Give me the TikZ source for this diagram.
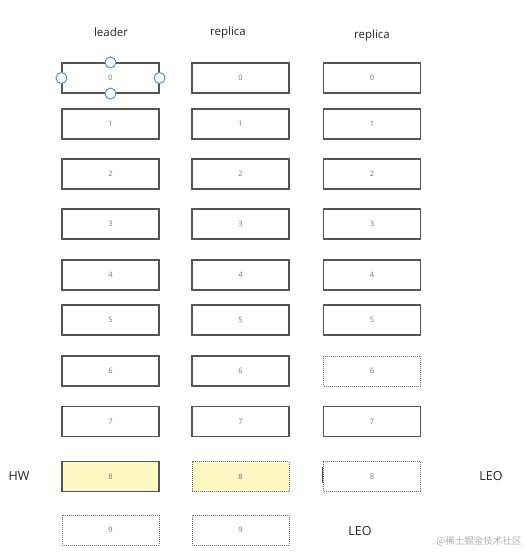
\documentclass[tikz,border=0pt]{standalone}
\usepackage{fontspec}
\setmainfont{Open Sans}
\newfontfamily\cjk{Noto Sans CJK SC}
\definecolor{boxline}{HTML}{555555}
\definecolor{numgray}{HTML}{777777}
\definecolor{hwyellow}{HTML}{FFF7C4}
\definecolor{handle}{HTML}{3D8BE0}
\begin{document}
\begin{tikzpicture}[x=1pt,y=-1pt,
  cell/.style={draw=boxline, line width=1.1pt, minimum width=97pt, minimum height=30pt, inner sep=0pt, font=\fontsize{7.5}{8}\selectfont, text=numgray},
  dotcell/.style={cell, draw=boxline!85, line width=1pt, dash pattern=on 0.9pt off 1.1pt},
  hw/.style={fill=hwyellow},
  title/.style={font=\fontsize{11.5}{13}\selectfont, text=black!85},
  lbl/.style={font=\fontsize{12.5}{14}\selectfont, text=black!85},
  knob/.style={circle, draw=handle, fill=white, line width=0.9pt, minimum size=11pt, inner sep=0pt}]
\useasboundingbox (0,0) rectangle (527,552);
\fill[white] (0,0) rectangle (527,552);
% titles
\node[title] (t1) at (111,32) {leader};
\node[title] (t2) at (228,33) {replica};
\node[title] (t3) at (372,36) {replica};
% column 1
\node[cell] (a0) at (110.5,78) {0};
\node[cell] (a1) at (110.5,124) {1};
\node[cell] (a2) at (110.5,174) {2};
\node[cell] (a3) at (110.5,224) {3};
\node[cell] (a4) at (110.5,275) {4};
\node[cell] (a5) at (110.5,320) {5};
\node[cell] (a6) at (110.5,371) {6};
\node[cell] (a7) at (110.5,421.5) {7};
\node[cell,hw] (a8) at (110.5,476.5) {8};
\node[dotcell] (a9) at (110.5,530) {9};
% column 2
\node[cell] (b0) at (240.5,78) {0};
\node[cell] (b1) at (240.5,124) {1};
\node[cell] (b2) at (240.5,174) {2};
\node[cell] (b3) at (240.5,224) {3};
\node[cell] (b4) at (240.5,275) {4};
\node[cell] (b5) at (240.5,320) {5};
\node[cell] (b6) at (240.5,371) {6};
\node[cell] (b7) at (240.5,421.5) {7};
\node[dotcell,hw] (b8) at (240.5,476.5) {8};
\node[dotcell] (b9) at (240.5,530) {9};
% column 3
\node[cell] (c0) at (372,78) {0};
\node[cell] (c1) at (372,124) {1};
\node[cell] (c2) at (372,174) {2};
\node[cell] (c3) at (372,224) {3};
\node[cell] (c4) at (372,275) {4};
\node[cell] (c5) at (372,320) {5};
\node[dotcell] (c6) at (372,371) {6};
\node[cell] (c7) at (372,421.5) {7};
\node[dotcell] (c8) at (372,476.5) {8};
% selection handles on leader 0
\node[knob] (h1) at (a0.north) {};
\node[knob] (h2) at (a0.south) {};
\node[knob] (h3) at (a0.west) {};
\node[knob] (h4) at (a0.east) {};
% cursor mark
\draw[black!70, line width=1pt] (322.5,467) -- (322.5,483);
% labels
\node[lbl] (hwl) at (19,476) {HW};
\node[lbl] (leo1) at (491,476) {LEO};
\node[lbl] (leo2) at (360,531) {LEO};
\node[font=\cjk\fontsize{9.5}{10}\selectfont, text=black!30, anchor=east] (wm) at (525,541) {@稀土掘金技术社区};
\end{tikzpicture}
\end{document}
